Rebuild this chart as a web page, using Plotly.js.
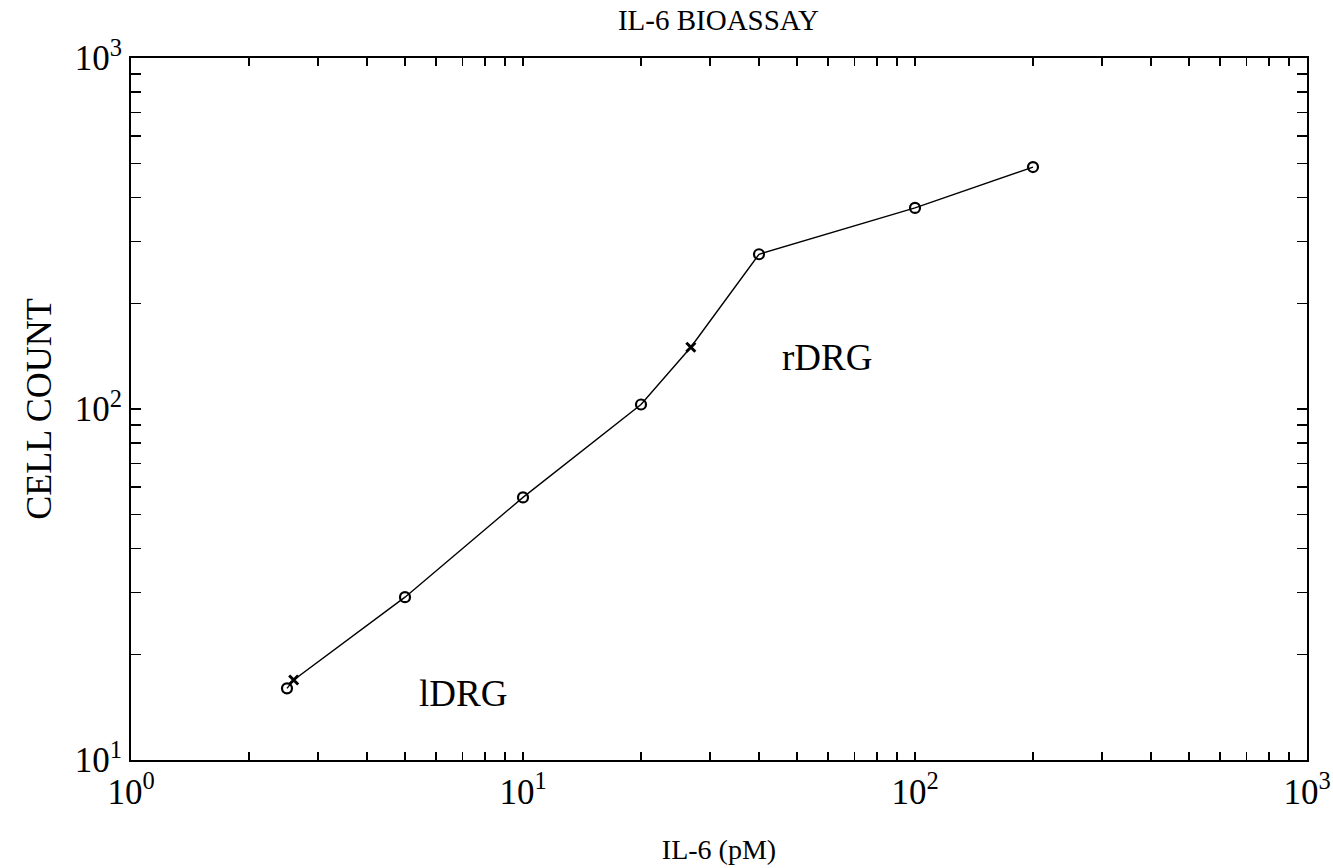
<!DOCTYPE html>
<html>
<head>
<meta charset="utf-8">
<script src="https://cdn.plot.ly/plotly-3.0.1.min.js"></script>
<style>html,body{margin:0;padding:0;background:#fff;}#chart{width:1333px;height:868px;}</style>
</head>
<body>
<div id="chart"></div>
<script>
// Data
var circleX = [2.5, 5, 10, 20, 40, 100, 200];
var circleY = [16.0, 29.1, 56, 103, 276, 374, 489];
var crossX = [2.6, 26.8];
var crossY = [16.9, 150];
var xMajor = [1, 10, 100, 1000];
var xMajorText = ['10<sup>0</sup>', '10<sup>1</sup>', '10<sup>2</sup>', '10<sup>3</sup>'];
var yMajor = [10, 100, 1000];
var yMajorText = ['10<sup>1</sup>', '10<sup>2</sup>', '10<sup>3</sup>'];
var labelTexts = ['lDRG', 'rDRG'];
var labelX = [5.37, 45.3];
var labelY = [15.5, 140];

// line connecting all points in x order
var pts = circleX.map(function(x,i){return [x, circleY[i]];})
  .concat(crossX.map(function(x,i){return [x, crossY[i]];}))
  .sort(function(a,b){return a[0]-b[0];});
var lineX = pts.map(function(p){return p[0];});
var lineY = pts.map(function(p){return p[1];});

function logTicks(majors, texts){
  var vals = [], txt = [];
  for (var k = 0; k < majors.length; k++){
    vals.push(majors[k]); txt.push(texts[k]);
    if (k < majors.length - 1){
      for (var m = 2; m <= 9; m++){ vals.push(majors[k]*m); txt.push(''); }
    }
  }
  return {vals: vals, text: txt};
}
var xt = logTicks(xMajor, xMajorText);
var yt = logTicks(yMajor, yMajorText);

var font = 'Liberation Serif, DejaVu Serif, serif';

var traces = [
  {x: lineX, y: lineY, mode: 'lines', line: {color: '#000', width: 1.4}, hoverinfo: 'skip'},
  {x: circleX, y: circleY, mode: 'markers',
   marker: {symbol: 'circle-open', size: 10, color: '#000', line: {width: 2.2, color: '#000'}}},
  {x: crossX, y: crossY, mode: 'markers',
   marker: {symbol: 'x-thin-open', size: 9, color: '#000', line: {width: 3, color: '#000'}}}
];

var annotations = labelTexts.map(function(t, i){
  return {x: Math.log10(labelX[i]), y: Math.log10(labelY[i]), xref: 'x', yref: 'y', text: t,
          showarrow: false, xanchor: 'left', yanchor: 'middle',
          font: {family: font, size: 37, color: '#000'}};
});

var layout = {
  width: 1333, height: 868,
  margin: {l: 131, r: 26, t: 58, b: 108},
  paper_bgcolor: '#fff', plot_bgcolor: '#fff',
  showlegend: false,
  font: {family: font, color: '#000'},
  title: {text: 'IL-6 BIOASSAY', font: {family: font, size: 29, color: '#000'},
          x: 0.539, xanchor: 'center', y: 0.977, yanchor: 'middle'},
  xaxis: {type: 'log', range: [0, 3], tickmode: 'array', tickvals: xt.vals, ticktext: xt.text,
          ticks: 'inside', ticklen: 8, tickwidth: 1.3, tickcolor: '#000',
          showline: true, linecolor: '#000', linewidth: 2, mirror: 'ticks',
          showgrid: false, zeroline: false,
          tickfont: {family: font, size: 35, color: '#000'},
          title: {text: 'IL-6 (pM)', font: {family: font, size: 28, color: '#000'}, standoff: 28}},
  yaxis: {type: 'log', range: [1, 3], tickmode: 'array', tickvals: yt.vals, ticktext: yt.text,
          ticks: 'inside', ticklen: 10, tickwidth: 1.3, tickcolor: '#000',
          showline: true, linecolor: '#000', linewidth: 2, mirror: 'ticks',
          showgrid: false, zeroline: false,
          tickfont: {family: font, size: 35, color: '#000'},
          title: {text: 'CELL COUNT', font: {family: font, size: 36, color: '#000'}, standoff: 12}},
  annotations: annotations
};

Plotly.newPlot('chart', traces, layout, {displayModeBar: false, staticPlot: true});
</script>
</body>
</html>
